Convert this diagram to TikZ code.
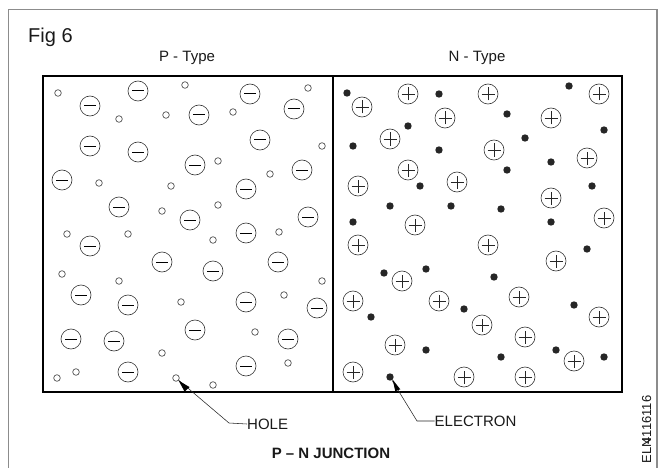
\documentclass[tikz,border=0pt]{standalone}
\usepackage{fontspec}
\setmainfont{Liberation Sans}
\tikzset{
  px/.style={x=1pt,y=-1pt},
  framebox/.style={draw=black!45,line width=1.1pt},
  junction/.style={draw=black,line width=2pt},
  charge/.style={circle,draw=black!80,line width=.6pt,minimum size=20pt,inner sep=0pt,path picture={
    \draw[black,line width=1pt] ([xshift=-6pt]path picture bounding box.center) -- ([xshift=6pt]path picture bounding box.center);}},
  pluscharge/.style={circle,draw=black!80,line width=.6pt,minimum size=20pt,inner sep=0pt,path picture={
    \draw[black!85,line width=.55pt] ([xshift=-6.5pt]path picture bounding box.center) -- ([xshift=6.5pt]path picture bounding box.center);
    \draw[black!85,line width=.55pt] ([yshift=-6.5pt]path picture bounding box.center) -- ([yshift=6.5pt]path picture bounding box.center);}},
  holept/.style={circle,draw=black!70,line width=.7pt,minimum size=6.6pt,inner sep=0pt},
  dotpt/.style={circle,fill=black!85,minimum size=7.4pt,inner sep=0pt},
  leader/.style={draw=black!85,line width=.55pt},
  tip/.style={fill=black},
  lbl/.style={font=\fontsize{15}{15}\selectfont,inner sep=0pt,text=black!90},
}
\begin{document}
\begin{tikzpicture}[px]
\useasboundingbox (0,0) rectangle (669,468);
\draw[framebox] (8.7,468) -- (8.7,9.5) -- (657,9.5) -- (657,468);
\draw[junction] (43,76) rectangle (622,392);
\draw[junction,line width=1.6pt] (333,76) -- (333,392);
\node[lbl,font=\fontsize{20}{20}\selectfont,anchor=base west] (fig) at (28,43) {Fig 6};
\node[lbl,anchor=base] (ptype) at (187,62) {P - Type};
\node[lbl,anchor=base] (ntype) at (477,62) {N - Type};
\foreach \x/\y [count=\i] in {138/91,90/106,250/94,294/109,199/115,260/140,90/146,138/152,195/165,302/170,62/180,246/189,119/207,308/217,190/220,246/233,90/246,162/262,278/262,213/271,81/295,128/305,246/302,317/308,195/330,71/339,114/341,288/339,246/366,128/372}
  \node[charge] (m\i) at (\x,\y) {};
\foreach \x/\y [count=\i] in {58/93,185/85,308/88,119/119,166/115,233/112,322/146,218/161,270/174,99/183,171/186,218/205,162/211,67/234,128/234,279/232,213/240,62/274,119/281,322/281,284/295,181/302,255/332,162/353,288/363,76/372,57/378,176/378,213/385}
  \node[holept] (h\i) at (\x,\y) {};
\foreach \x/\y [count=\i] in {408/94,488/94,599/94,362/107,445/118,551/118,390/139,494/150,587/158,408/170,457/182,358/186,551/198,604/218,415/225,358/245,488/245,556/261,402/281,353/301,439/301,519/297,482/325,599/317,525/337,395/345,574/361,353/372,464/377,525/377}
  \node[pluscharge] (c\i) at (\x,\y) {};
\foreach \x/\y [count=\i] in {347/93,439/94,569/86,507/114,408/126,604/130,525/138,353/146,439/150,551/162,507/170,420/186,592/186,390/206,451/206,501/209,353/222,551/222,587/249,384/273,426/269,494/277,574/305,464/309,371/317,426/350,556/350,501/357,604/357,390/377}
  \node[dotpt] (d\i) at (\x,\y) {};
\node[lbl,anchor=west] (hole) at (247,424) {HOLE};
\node[lbl,anchor=west] (electron) at (434.5,421) {ELECTRON};
\node[lbl,font=\fontsize{15}{15}\bfseries\selectfont,anchor=base] (title) at (331,458) {P -- N JUNCTION};
\node[lbl,font=\fontsize{13}{13}\selectfont,rotate=90,anchor=base east] (code) at (651,395.5) {ELN\kern-6.5pt 4116116};
\coordinate (holeelbow) at (229,423);
\coordinate (elecelbow) at (417,421);
\draw[leader] (hole.west) -- (holeelbow) -- (h28);
\draw[leader] (electron.west) -- (elecelbow) -- (d30);
\fill[tip] (h28.south east) -- ++(11,6.5) -- ++(-5,4.5) -- cycle;
\fill[tip] (d30.south east) -- ++(7.5,9.5) -- ++(-5,2) -- cycle;
\end{tikzpicture}
\end{document}
